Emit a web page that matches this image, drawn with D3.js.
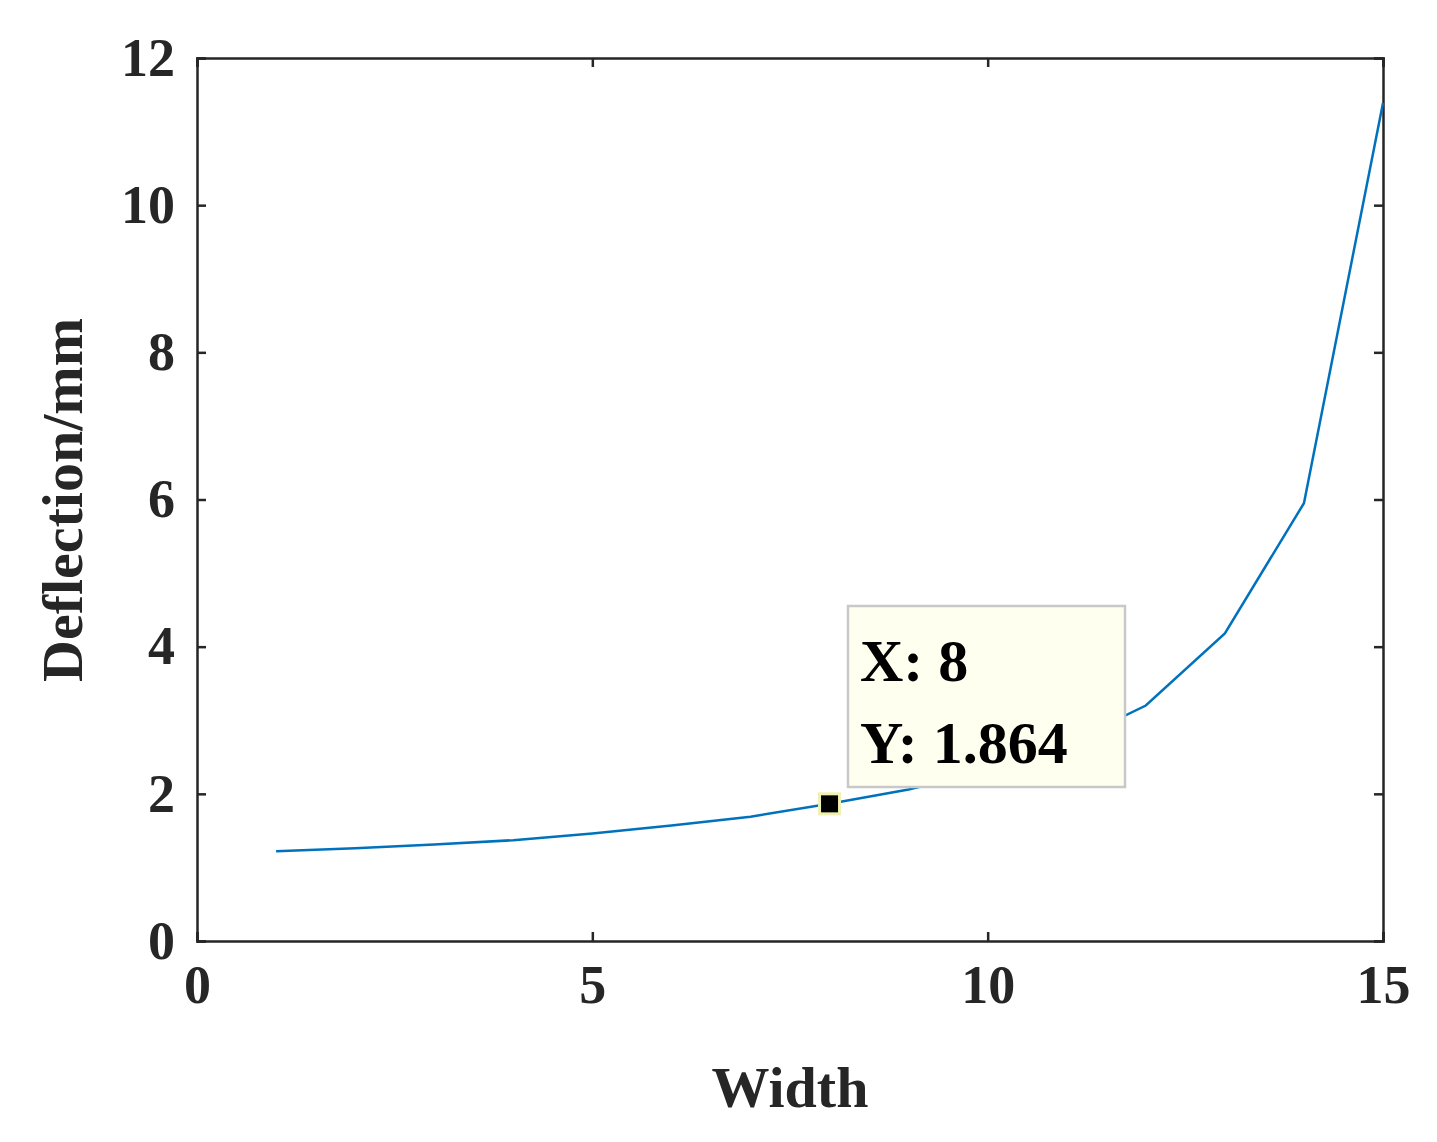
<!DOCTYPE html><html><head><meta charset="utf-8">
<script src="https://cdn.jsdelivr.net/npm/d3@7"></script>
<style>body{margin:0;background:#fff}</style></head><body>
<svg id="c" width="1437" height="1142"></svg>
<script>
const widths=[1,2,3,4,5,6,7,8,9,10,11,12,13,14,15];
const deflection=[1.22,1.26,1.31,1.37,1.46,1.57,1.69,1.864,2.06,2.32,2.68,3.2,4.18,5.95,11.39];
const xTicks=[0,5,10,15];
const yTicks=[0,2,4,6,8,10,12];
const tip={x:8,y:1.864};

const svg=d3.select("#c");
const L=197,R=1383,T=58,B=941;
const x=d3.scaleLinear().domain([0,15]).range([L,R]);
const y=d3.scaleLinear().domain([0,12]).range([B,T]);
const font="'Liberation Serif','Times New Roman',serif";
const g=svg.append("g");
function ax(a,tr,sz,lab){const s=g.append("g").attr("transform",tr).call(a);
 s.select(".domain").attr("stroke","#262626").attr("stroke-width",2.5);
 s.selectAll(".tick line").attr("stroke","#262626").attr("stroke-width",2.5);
 s.selectAll("text").attr("font-family",font).attr("font-weight","bold").attr("font-size",sz).attr("fill","#262626").style("display",lab?null:"none");return s;}
ax(d3.axisBottom(x).tickValues(xTicks).tickSize(-9).tickPadding(24),`translate(0,${B})`,54,true);
ax(d3.axisTop(x).tickValues(xTicks).tickSize(-9),`translate(0,${T})`,54,false);
ax(d3.axisLeft(y).tickValues(yTicks).tickSize(-9).tickPadding(22),`translate(${L},0)`,54,true);
ax(d3.axisRight(y).tickValues(yTicks).tickSize(-9),`translate(${R},0)`,54,false);

g.append("path").datum(widths.map((w,i)=>[w,deflection[i]]))
 .attr("d",d3.line().x(d=>x(d[0])).y(d=>y(d[1]))).attr("fill","none").attr("stroke","#0072BD").attr("stroke-width",2.5);

g.append("text").attr("x",(L+R)/2).attr("y",1107).attr("text-anchor","middle").attr("font-family",font).attr("font-weight","bold").attr("font-size",58).attr("fill","#262626").text("Width");
g.append("text").attr("transform","translate(82,500) rotate(-90)").attr("text-anchor","middle").attr("font-family",font).attr("font-weight","bold").attr("font-size",58).attr("fill","#262626").text("Deflection/mm");

g.append("rect").attr("x",848).attr("y",606).attr("width",277).attr("height",181).attr("fill","#ffffef").attr("stroke","#c8c8c8").attr("stroke-width",2.5);
g.append("text").attr("x",860).attr("y",681).attr("font-family",font).attr("font-weight","bold").attr("font-size",60).attr("fill","#000").text("X: "+tip.x);
g.append("text").attr("x",860).attr("y",763).attr("font-family",font).attr("font-weight","bold").attr("font-size",60).attr("fill","#000").text("Y: "+tip.y);
g.append("rect").attr("x",x(tip.x)-10).attr("y",y(tip.y)-10).attr("width",20).attr("height",20).attr("fill","#000").attr("stroke","#f0f0b0").attr("stroke-width",3);
</script></body></html>
